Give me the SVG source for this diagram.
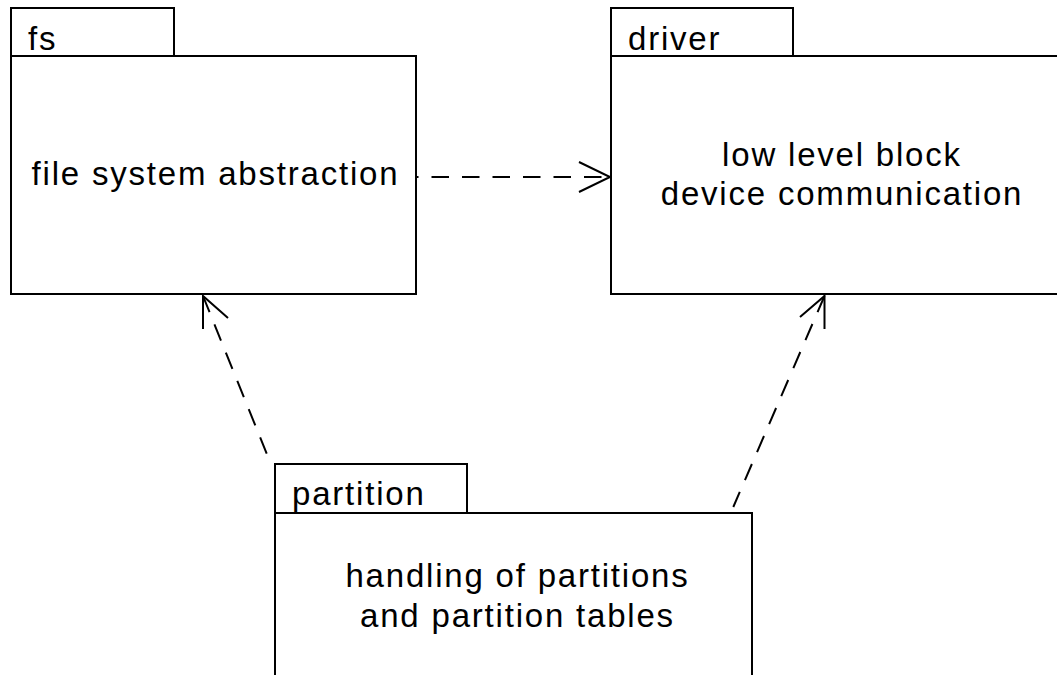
<svg xmlns="http://www.w3.org/2000/svg" width="1057" height="675" viewBox="0 0 1057 675">
<style>
.pk{fill:#fff;stroke:#000;stroke-width:2}
.lbl{font-family:"Liberation Sans",Arial,Helvetica,sans-serif;font-size:33px;letter-spacing:1.8px;fill:#000}
.c{text-anchor:middle}
.dep{fill:none;stroke:#000;stroke-width:2;stroke-dasharray:17.5 13}
.head{fill:none;stroke:#000;stroke-width:2;stroke-linejoin:miter}
</style>
<rect x="0" y="0" width="1057" height="675" fill="#fff"/>
<g id="connectors">
<path class="dep" d="M417,177 H610" stroke-dashoffset="16"/>
<polyline class="head" points="579,162 610,177 579,192"/>
<path class="dep" d="M203,296 L270.5,463"/>
<polyline class="head" points="203,329 203,296 228,318"/>
<path class="dep" d="M824.5,296 L733.3,507"/>
<polyline class="head" points="800,317 824.5,296 824.5,329"/>
</g>
<g id="fs">
<rect class="pk" x="11" y="8" width="163" height="48"/>
<rect class="pk" x="11" y="56" width="405" height="238"/>
<text class="lbl" x="28" y="50">fs</text>
<text class="lbl c" x="215.5" y="185">file system abstraction</text>
</g>
<g id="driver">
<rect class="pk" x="611" y="8" width="182" height="48"/>
<rect class="pk" x="611" y="56" width="460" height="238"/>
<text class="lbl" x="628" y="50">driver</text>
<text class="lbl c" x="842" y="166">low level block</text>
<text class="lbl c" x="842" y="205">device communication</text>
</g>
<g id="partition">
<rect class="pk" x="275" y="464" width="192" height="49"/>
<rect class="pk" x="275" y="513" width="477" height="238"/>
<text class="lbl" x="292" y="505">partition</text>
<text class="lbl c" x="517.5" y="587">handling of partitions</text>
<text class="lbl c" x="517.5" y="627">and partition tables</text>
</g>
</svg>
